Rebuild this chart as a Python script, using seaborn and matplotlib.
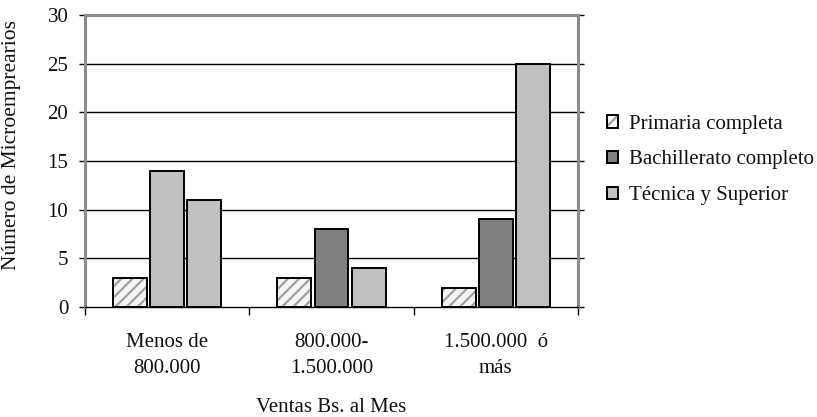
import matplotlib
matplotlib.use("Agg")
import matplotlib.pyplot as plt
from matplotlib.patches import Rectangle, Patch
from matplotlib.legend_handler import HandlerTuple
import seaborn as sns
import pandas as pd

# Sales brackets (Bs. per month) and schooling level of the owner
categories = ["Menos de\n800.000", "800.000-\n1.500.000", "1.500.000  ó\nmás"]
series = ["Primaria completa", "Bachillerato completo", "Técnica y Superior"]
primaria = [3, 3, 2]
bachillerato = [14, 8, 9]
tecnica = [11, 4, 25]
y_ticks = [0, 5, 10, 15, 20, 25, 30]

rows = []
for name, vals in zip(series, [primaria, bachillerato, tecnica]):
    for cat, v in zip(categories, vals):
        rows.append({"Ventas": cat, "Nivel": name, "Microempresarios": v})
df = pd.DataFrame(rows)

sns.set_theme(style="white")
plt.rcParams["font.family"] = ["Liberation Serif", "DejaVu Serif"]
plt.rcParams["hatch.linewidth"] = 1.6

fig = plt.figure(figsize=(8.17, 4.17), dpi=100)
ax = fig.add_axes([85 / 817, 1 - 307 / 417, (578 - 85) / 817, (307 - 15) / 417])

palette = {series[0]: "white", series[1]: "#808080", series[2]: "#c0c0c0"}
sns.barplot(data=df, x="Ventas", y="Microempresarios", hue="Nivel",
            order=categories, hue_order=series, palette=palette,
            width=0.68, gap=0.09, errorbar=None, edgecolor="black",
            linewidth=1.4, saturation=1, ax=ax, zorder=3)

# Hatched series: grey stripes, black outline drawn on top
hatch_color = "#a0a0a0"
for p in ax.containers[0]:
    p.set_hatch("///")
    p.set_facecolor("#f4f4f4")
    p.set_edgecolor(hatch_color)
    p.set_linewidth(0)
    ax.add_patch(Rectangle((p.get_x(), p.get_y()), p.get_width(), p.get_height(),
                           fill=False, edgecolor="black", linewidth=1.4, zorder=4))

# The first Bachillerato bar is shaded light grey
ax.containers[1][0].set_facecolor("#c0c0c0")

ax.set_xlim(-0.5, len(categories) - 0.5)
ax.set_ylim(y_ticks[0], y_ticks[-1])
ax.set_yticks(y_ticks)
for y in y_ticks[1:-1]:
    ax.axhline(y, color="black", linewidth=1.0, zorder=1)

# Frame
for side in ["left", "top", "right"]:
    ax.spines[side].set_color("#8c8c8c")
    ax.spines[side].set_linewidth(2.2)
ax.spines["bottom"].set_color("black")
ax.spines["bottom"].set_linewidth(1.0)

ax.set_xticks(range(len(categories)))
ax.set_xticklabels(categories, fontsize=15, linespacing=1.45)
ax.set_xticks([i - 0.5 for i in range(len(categories) + 1)], minor=True)
ax.tick_params(axis="x", which="major", length=0, pad=19, colors="#111111")
ax.tick_params(axis="x", which="minor", bottom=True, length=6, width=1,
               direction="out", color="black")
ax.tick_params(axis="y", which="major", left=True, right=True, length=4,
               width=1, direction="out", color="black", labelsize=15,
               pad=8, labelcolor="#111111")

ax.set_xlabel("Ventas Bs. al Mes", fontsize=15, color="#111111")
ax.xaxis.set_label_coords(0.5, (307 - 407) / 292)
ax.xaxis.label.set_va("center")
ax.set_ylabel("Número de Microemprearios", fontsize=15.5, color="#111111")
ax.yaxis.set_label_coords((12 - 85) / 493, (307 - 145) / 292)
ax.yaxis.label.set_va("center")

# Legend
ax.get_legend().remove()
hatch_handle = Patch(facecolor="#f4f4f4", edgecolor=hatch_color, hatch="///", linewidth=0)
outline_handle = Patch(facecolor="none", edgecolor="black", linewidth=1.4)
handles = [(hatch_handle, outline_handle),
           Patch(facecolor="#808080", edgecolor="black", linewidth=1.4),
           Patch(facecolor="#c0c0c0", edgecolor="black", linewidth=1.4)]
fig.legend(handles, series, loc="center left",
           bbox_to_anchor=(588 / 817, 1 - 160 / 417), frameon=False,
           fontsize=15, handlelength=0.55, handleheight=0.55,
           handletextpad=0.5, labelspacing=0.8,
           handler_map={tuple: HandlerTuple(ndivide=1)},
           labelcolor="#111111")

fig.savefig("out.png", dpi=100, facecolor="white")
